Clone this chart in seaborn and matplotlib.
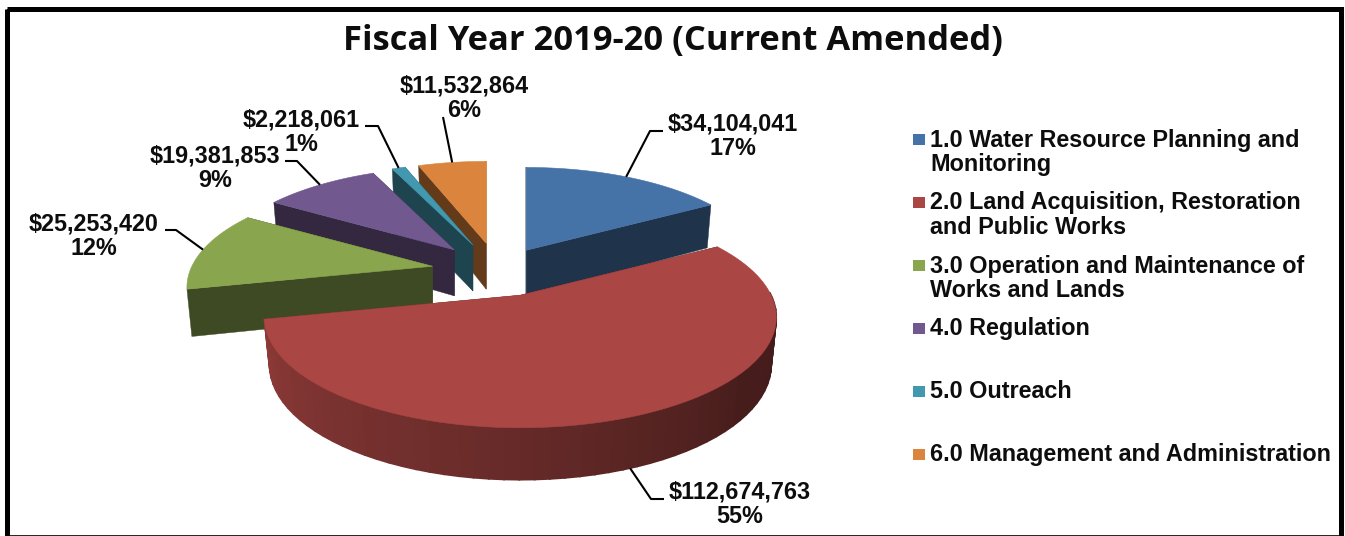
import numpy as np
import matplotlib
matplotlib.use("Agg")
import matplotlib.pyplot as plt
from matplotlib.patches import Rectangle
import seaborn as sns

# Budget by program area
programs = [
    "1.0 Water Resource Planning and\nMonitoring",
    "2.0 Land Acquisition, Restoration\nand Public Works",
    "3.0 Operation and Maintenance of\nWorks and Lands",
    "4.0 Regulation",
    "5.0 Outreach",
    "6.0 Management and Administration",
]
amounts = [34104041, 112674763, 25253420, 19381853, 2218061, 11532864]
title = "Fiscal Year 2019-20 (Current Amended)"

# Styling and layout
hex_colors = ["#4572A7", "#AA4643", "#89A54E", "#71588F", "#4198AF", "#DB843D"]
explode = [0.23, 0.25, 0.27, 0.27, 0.27, 0.27]
label_centers = [(733, 136), (740, 504), (94, 236), (215, 168), (301, 132), (464, 98)]
leader_elbows = [
    [(663, 131), (650, 131)],
    [(664, 499), (651, 499)],
    [(165, 230), (176, 230)],
    [(285, 161), (297, 161)],
    [(365, 126), (378, 126)],
    [(443, 117)],
]
legend_rows = [139.5, 202.5, 265.5, 328, 391, 454]

# Projection of the tilted pie onto the figure, in pixels
CX, CY = 498, 271
RX, RY = 246, 104
PERSPECTIVE = 0.20
NEAR_GAIN = 0.15
SIZE_BASE = 0.985
DEPTH = 46
DEPTH_TAPER = 0.13
BOTTOM_SHRINK = 0.98
DRAW_ORDER = [5, 4, 3, 2, 0, 1]

sns.set_theme(style="white")
palette = sns.color_palette(hex_colors)
plt.rcParams["font.family"] = ["Liberation Sans", "DejaVu Sans"]

fig = plt.figure(figsize=(13.45, 5.36), dpi=100, facecolor="white")
ax = fig.add_axes([0, 0, 1, 1])
ax.set_xlim(0, 1345)
ax.set_ylim(536, 0)
ax.axis("off")

values = np.array(amounts, dtype=float)
edges = np.concatenate([[0], np.cumsum(values / values.sum())]) * 2 * np.pi
largest = int(np.argmax(values))


def mid_angle(i):
    return (edges[i] + edges[i + 1]) / 2


def apex_of(i):
    mid = mid_angle(i)
    return (CX + explode[i] * RX * np.sin(mid), CY - explode[i] * RY * np.cos(mid))


def size_of(i):
    # Slices pulled towards the viewer come out a little larger
    return SIZE_BASE * (1 - NEAR_GAIN * explode[i] * np.cos(mid_angle(i)))


def top_point(i, theta):
    ax0, ay0 = apex_of(i)
    x, y = np.sin(theta), np.cos(theta)
    s = size_of(i) / (1 + PERSPECTIVE * y)
    return ax0 + RX * x * s, ay0 - RY * y * s


def bottom_point(i, theta):
    ax0, _ = apex_of(i)
    px, py = top_point(i, theta)
    drop = DEPTH * (1 - DEPTH_TAPER * np.cos(theta))
    return ax0 + (px - ax0) * BOTTOM_SHRINK, py + drop


def shade(color, factor):
    return tuple(c * factor for c in color)


def rim_factor(theta):
    # Rim lighting falls off from the left of the pie towards the right
    return np.interp(np.degrees(theta), [90, 130, 180, 260], [0.39, 0.42, 0.60, 0.84])


for i in DRAW_ORDER:
    color = palette[i]
    a0, a1 = edges[i], edges[i + 1]
    dark = shade(color, 0.45)
    ax0, ay0 = apex_of(i)

    # Cut faces
    for theta in (a0, a1):
        tx, ty = top_point(i, theta)
        bx, by = bottom_point(i, theta)
        ax.fill([ax0, tx, bx, ax0], [ay0, ty, by, ay0 + DEPTH], color=dark, lw=0.3)

    # Outer rim of the large front slice, in narrow strips so the shading can vary
    if i == largest:
        thetas = np.linspace(a0, a1, 70)
        for t0, t1 in zip(thetas[:-1], thetas[1:]):
            if np.cos((t0 + t1) / 2) > 0.02:
                continue
            p = [top_point(i, t0), top_point(i, t1), bottom_point(i, t1), bottom_point(i, t0)]
            strip = shade(color, rim_factor((t0 + t1) / 2))
            ax.fill(*zip(*p), facecolor=strip, edgecolor=strip, lw=1.2)

    # Top surface
    outline = [apex_of(i)] + [top_point(i, t) for t in np.linspace(a0, a1, 150)]
    ax.fill(*zip(*outline), color=color, lw=0.4)

# Data labels and leader lines
shares = values / values.sum() * 100
for i, (amount, share) in enumerate(zip(amounts, shares)):
    mid = mid_angle(i)
    anchor = bottom_point(i, mid) if np.cos(mid) < 0 else top_point(i, mid)
    pts = leader_elbows[i] + [anchor]
    ax.plot(*zip(*pts), color="black", lw=1.5, zorder=3, solid_capstyle="butt")
    ax.text(*label_centers[i], f"${amount:,}\n{share:.0f}%", ha="center", va="center",
            fontsize=16.8, fontweight="bold", color="#0d0d0d", linespacing=1.1, zorder=4)

# Legend
for i, (row, name) in enumerate(zip(legend_rows, programs)):
    ax.add_patch(Rectangle((913, row - 5.5), 12, 11, color=palette[i], lw=0, zorder=3))
    ax.text(930, row - 11, name, ha="left", va="top", fontsize=16.8, fontweight="bold",
            color="#0d0d0d", linespacing=1.1, zorder=4)

ax.text(673, 41, title, ha="center", va="center", fontsize=24.8, fontweight="bold",
        family=["Open Sans", "DejaVu Sans"], color="#0d0d0d", zorder=4)

# Heavy frame around the chart, running off the bottom edge
ax.add_patch(Rectangle((6.5, 8.5), 1334, 540, fill=False, edgecolor="black", lw=3.6, zorder=5))
ax.plot([6.5, 1340.5], [535.5, 535.5], color="black", lw=1.2, zorder=5)

fig.savefig("out.png", dpi=100, facecolor="white")
